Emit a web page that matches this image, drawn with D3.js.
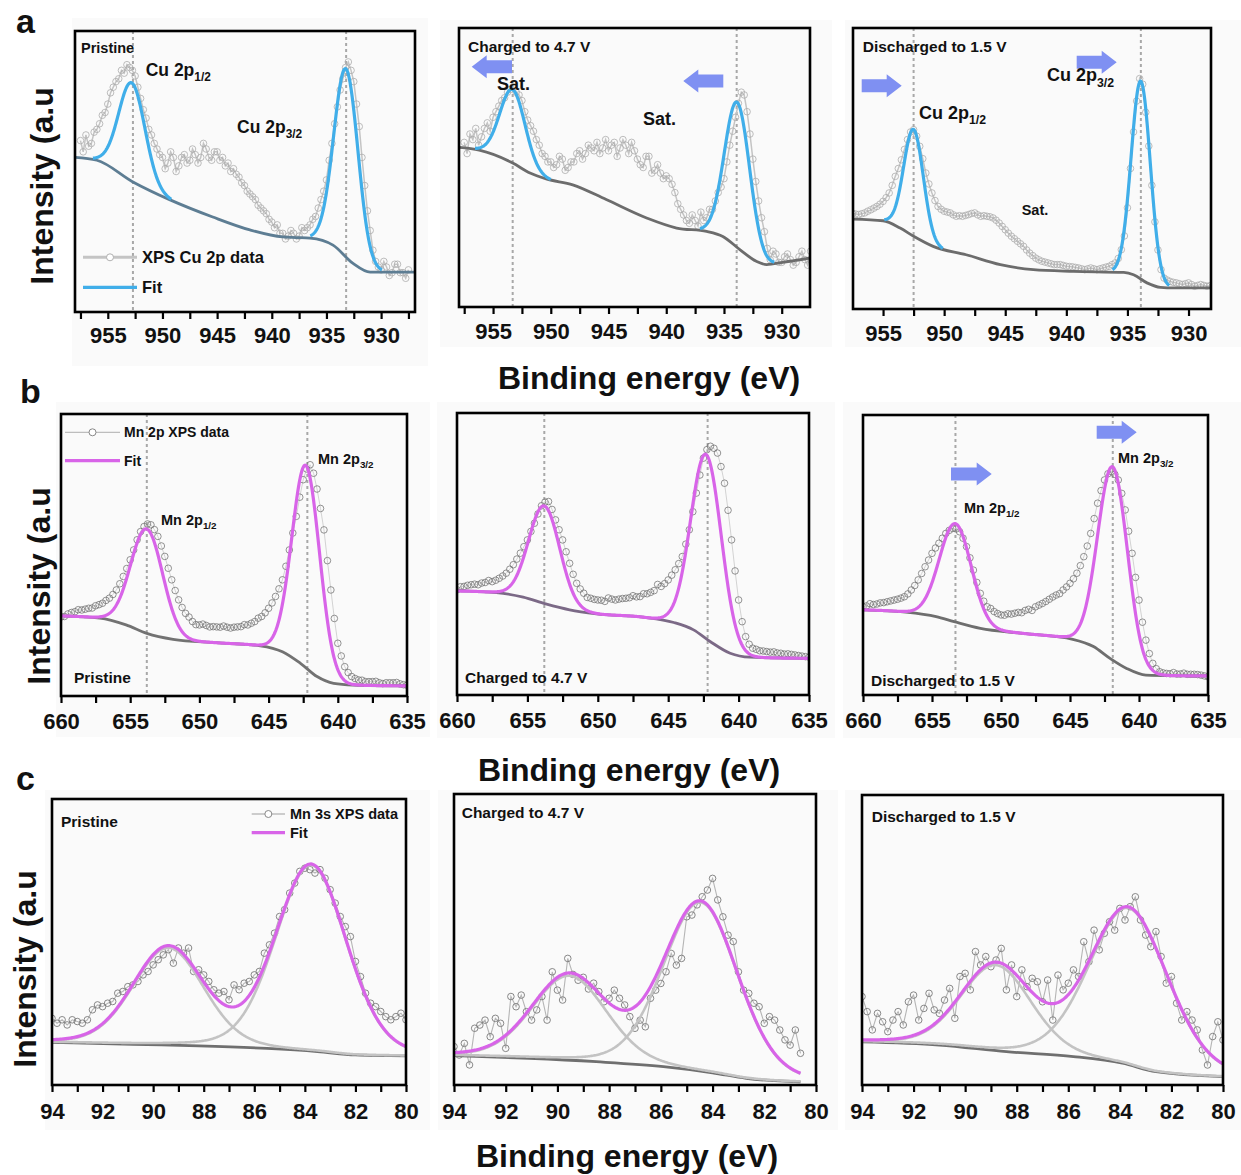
<!DOCTYPE html>
<html><head><meta charset="utf-8">
<script src="https://cdn.jsdelivr.net/npm/d3@7"></script>
<style>
body{margin:0;background:#fff;}
svg text{font-family:"Liberation Sans",Arial,Helvetica,sans-serif;font-weight:bold;fill:#111;}
</style></head>
<body><svg id="fig" width="1241" height="1175"></svg>
<script>
// ---------- energy grids (binding energy, eV) ----------
const cuEnergy = d3.range(957.5, 927.4, -0.25);         // Cu 2p scans
const mn2pEnergy = d3.range(660, 634.9, -0.25);         // Mn 2p scans
const mn3sEnergy = d3.range(94, 79.99, -0.2);           // Mn 3s scans
const mn3sEnergyShort = d3.range(94, 80.59, -0.2);      // Mn 3s charged scan ends at 80.6 eV

// ---------- measured intensities (a.u., 0 = bottom of frame, 100 = top) ----------
// Cu 2p rows: first row 957.5–957.25, then one row per eV (N, N-0.25, N-0.5, N-0.75)
const cuPristine = [61,57,
  63,59,60,64, 65,67,70,71, 74,78,80,82, 83,86,85,88, 87,86,84,80,
  76,72,69,65, 63,60,58,56, 55,51,53,57, 55,50,52,55, 56,53,54,58,
  56,53,55,60, 58,55,54,57, 57,54,55,52, 53,50,51,49, 48,46,45,43,
  42,41,40,38, 37,36,35,33, 32,30,31,28, 28,26,27,29, 28,26,27,30,
  29,30,31,33, 34,37,40,43, 47,54,60,67, 73,79,83,87, 89,86,82,74,
  66,55,45,36, 29,22,18,16, 15,18,16,13, 14,17,17,14, 14,12,15];
const cuCharged = [59,55,
  62,60,64,58, 61,64,66,63, 68,70,72,74, 75,77,78,79, 77,76,74,70,
  67,65,63,60, 58,55,54,52, 52,50,51,54, 53,49,50,52, 52,55,56,53,
  55,58,57,56, 59,55,57,60, 56,58,59,54, 57,60,58,55, 59,56,53,51,
  50,54,54,48, 49,51,48,46, 47,46,44,41, 37,35,33,31, 30,33,31,29,
  34,31,32,35, 35,38,41,43, 46,52,58,63, 68,73,77,76, 70,62,53,45,
  38,32,27,21, 17,20,19,16, 16,18,19,17, 15,16,18,20, 17,15,20];
const cuDischarged = [34,33.8,
  33.6,33.9,34.2,34.8, 35.3,35.9,36.5,37.3, 38.3,39.6,41.3,44, 47.2,50,53.1,56.8, 60.3,63,63.8,61.5,
  57.9,53.5,48.4,44.5, 41.3,38.6,36.5,35.5, 34.8,34.5,34.2,33.5, 33,33.2,33,33.3, 33.6,34,34.2,33.5,
  33,33.2,33,32.8, 32.4,31.6,30.6,29.4, 28.2,27,25.9,25, 24.1,23.2,22.3,21, 19.9,19,18.1,17.5,
  17,16.7,16.4,16.1, 15.8,15.8,15.8,15.5, 15.2,15.1,15,14.8, 14.6,14.3,14,14.3, 14.6,14.3,14,14.3,
  14.6,14.9,15.2,15.8, 16.4,18,21.1,26, 36,50,63,74, 82,80,70,58, 44,31,21,14,
  11,10.3,9.8,9.5, 9.3,9,8.7,9, 9.3,8.7,8.1,8.4, 8.7,8.4,8.1,8.3, 8.4,8.3,8.2];

// Mn 2p rows: one row per eV (N, N-0.25, N-0.5, N-0.75) from 660, last value at 635
const mn2pPristine = [
  28.0,28.2,29.1,29.6, 29.9,30.6,30.5,30.8, 31.1,31.2,32.0,32.4, 32.9,33.9,34.7,36.0, 37.6,39.8,42.4,45.2,
  48.3,51.8,55.4,58.3, 60.1,61.0,60.7,59.0, 56.6,53.2,49.5,45.3, 41.2,37.4,34.1,31.4, 29.3,28.0,26.4,25.3,
  25.2,25.5,25.0,24.5, 24.6,24.5,24.4,24.8, 24.4,24.1,24.4,24.5, 24.6,25.3,25.2,25.8, 26.4,27.6,28.2,29.5,
  31.1,33.0,35.3,38.0, 41.2,46.0,51.8,57.8, 63.7,70.5,76.7,80.5, 82.0,79.0,73.4,66.5, 58.9,48.0,37.6,27.5,
  18.7,14.2,10.4,8.3, 6.9,6.2,5.7,5.6, 5.1,5.1,5.1,5.2, 4.7,4.4,4.7,4.7, 4.7,4.8,4.3,4.0, 3.8];
const mn2pCharged = [
  37.3,38.4,38.5,38.9, 39.1,39.3,39.1,39.7, 39.9,40.6,40.2,40.7, 41.4,42.2,43.2,44.6, 46.2,48.2,50.3,52.6,
  55.0,58.0,60.9,64.2, 67.1,68.4,68.6,65.8, 62.1,58.6,55.0,50.8, 46.7,42.8,39.6,37.6, 36.1,34.6,34.3,33.9,
  33.7,33.6,33.2,34.4, 34.0,33.7,34.0,34.2, 34.3,34.5,35.2,34.8, 34.9,35.9,35.9,36.4, 37.0,39.2,38.5,39.5,
  40.8,42.5,44.4,46.6, 49.1,53.5,58.6,65.0, 71.6,78.0,84.0,87.0, 88.2,87.5,85.8,81.0, 75.1,65.5,55.0,44.0,
  33.7,26.0,20.7,18.0, 16.6,16.2,15.7,15.6, 15.4,15.2,15.3,14.9, 14.8,14.5,14.6,14.4, 14.2,14.0,13.8,13.6, 13.4];
const mn2pDischarged = [
  31.5,31.8,32.6,32.3, 32.5,32.9,33.0,33.3, 33.6,33.9,34.2,34.6, 35.1,36.1,37.5,39.1, 41.1,43.4,45.8,48.2,
  50.6,52.5,54.2,56.0, 57.7,58.8,59.5,59.3, 58.3,56.0,53.0,49.0, 44.6,40.2,36.3,33.5, 31.5,30.9,29.8,29.1,
  28.6,28.5,29.0,28.9, 29.2,29.5,29.4,30.2, 30.6,30.2,31.5,32.1, 32.7,33.4,34.2,35.0, 35.7,36.2,37.5,38.6,
  39.9,41.5,43.5,46.2, 49.4,53.2,57.7,63.0, 68.5,73.0,76.8,79.0, 79.8,78.8,76.8,72.0, 66.1,58.5,50.6,42.0,
  33.9,26.0,19.6,14.8, 11.3,9.4,8.3,7.9, 7.7,7.6,8.0,7.5, 7.5,7.8,7.4,7.4, 7.4,7.3,7.1,6.8, 6.5];

const mn3sPristine = [23.3,21.6,22.8,21,22.8,22.2,21.6,22.8,26.3,28,
  27.4,28.6,29.2,32.1,32.7,34.4,35,36.2,38.5,39.7,
  42,43.8,45.5,47.3,42.6,47.9,46.1,47.9,39.7,40.3,
  38.5,36.2,33.3,32.1,32.7,29.8,35,33.3,35.6,36.2,
  38.5,39.7,46.1,49,53.1,58.9,61.3,67.1,70.6,74.7,
  75.8,75.3,74.1,75.3,72.3,68.3,63.6,58.9,55.4,51.9,
  43.2,37.9,32.1,28.6,27.4,25.7,23.9,22.8,23.9,25.1,22.8];
const mn3sCharged = [13.2,10.3,14.3,6.9,19.5,20.6,22.3,16.6,22.9,21.2,
  12.6,30.4,26.9,30.9,25.2,22.3,25.8,30.4,22.3,38.9,
  32.6,29.2,43.5,38,36,37,33,35,32.1,28.6,
  29.8,32.6,29.8,27.5,23.5,19.5,22.3,20,29.8,32.6,
  34.9,38.9,45.2,41.2,43.5,57.8,58.4,61.9,64.7,67,
  71,63.6,57.8,51.5,49.3,38.9,32.6,31.5,28.1,26.9,
  21.2,23.5,22.3,18.9,15.5,13.7,18.9,10.9];
const mn3sDischarged = [30.5,25.3,19,24.7,21.8,18.4,22.4,25.3,20.7,28.7,
  31,22.4,26.4,31.6,25.9,24.7,29.3,33.3,23,37.4,
  38.5,32.8,46,41.4,44.3,40.8,43.1,47.1,32.8,41.4,
  30.5,39.7,33.9,36.8,35.6,28.7,36.2,22.4,37.9,32.8,
  35.1,39.7,37.4,49.4,42.5,53.4,46.6,52.3,56.3,53.4,
  60.9,56.9,61.5,64.9,56.9,51.7,47.7,52.9,44.3,35.1,
  37.4,28.2,22.4,25.3,22.4,19,12.1,6.9,16.7,21.8,15.5];

// ---------- Shirley-type backgrounds [eV, intensity] ----------
const cuPristineBg = [[958,55],[956,54],[952.7,46.3],[949.3,39.9],[945.4,33.8],[942,29.2],[939,26.7],[937.8,26.5],[936.5,26.3],[934.4,23.8],[932.6,17.4],[931,14.2],[926.9,14.2]];
const cuChargedBg = [[958,57.2],[956.2,56.2],[953.3,51.6],[951.8,48],[950.4,45.9],[948.1,43.8],[945.2,38.5],[941.7,31.9],[939.1,28.3],[936.5,27.1],[935.1,25.3],[933.6,20.5],[932.2,16.4],[931.3,15.2],[929.9,16],[927.5,17.6]];
const cuDischargedBg = [[957.5,32],[955,31.4],[953.6,28.8],[952.5,25.9],[950.9,22.3],[948.2,19.3],[945.4,15.8],[942.7,14],[939.4,13.4],[935.3,13],[934.5,12.2],[933.4,9.3],[932.3,7.7],[931.2,7.5],[928.1,7.5]];
const mn2pPristineBg = [[660,28.4],[657.2,27.6],[655.3,25.2],[653.8,22.2],[651.9,20.1],[648.8,18.9],[645.6,17.8],[644,15.7],[642.7,11.6],[641.5,6.9],[640.3,4.5],[638.9,3.9],[635,3.6]];
const mn2pChargedBg = [[660,36.9],[657.2,36.3],[655.3,34.7],[653.7,32.3],[652,30.2],[650.1,28.8],[646.8,27.6],[644.6,25.7],[643.2,23.1],[642,18.9],[640.6,14.8],[639.2,13.4],[635,13]];
const mn2pDischargedBg = [[660,30.4],[656.9,29.6],[654.7,28],[653.4,26.2],[651.5,23.8],[648.4,22],[644.8,19.9],[643.3,17.3],[642.1,13.1],[640.9,9.5],[639.5,7.1],[635,6.8]];
const mn3sPristineBg = [[94,14.9],[90.8,14.2],[88.2,13.7],[85.5,12.8],[83.5,11.7],[82,10.5],[80,10.2]];
const mn3sChargedBg = [[94,10.1],[91.1,9.2],[88.5,8],[85.9,6.3],[84,4.2],[82.7,2.3],[80.6,1.1]];
const mn3sDischargedBg = [[94,14.9],[91,13.8],[88.4,11.5],[85.8,9.8],[83.9,7.5],[82.6,4.6],[80,2.9]];

// ---------- fitted peak components ----------
const cuPristinePeaks = [{center:952.8,height:35,sigma:1.2},{center:933.2,height:67,sigma:1.1}];
const cuChargedPeaks = [{center:953.3,height:26.3,sigma:1.1},{center:933.85,height:52,sigma:1.08}];
const cuDischargedPeaks = [{center:952.5,height:38,sigma:0.8},{center:933.9,height:70.4,sigma:0.78}];
const mn2pPristinePeaks = [{center:653.8,height:37,sigma:1.15},{center:642.3,height:71.7,sigma:1.0}];
const mn2pChargedPeaks = [{center:653.8,height:34.6,sigma:1.1},{center:642.3,height:65.3,sigma:1.08}];
const mn2pDischargedPeaks = [{center:653.3,height:35.1,sigma:1.15},{center:641.9,height:69,sigma:1.07}];
const mn3sPristinePeaks = [{center:89.4,height:34,fwhm:3.3,eta:0.15},{center:83.75,height:65,fwhm:3.3,eta:0.15}];
const mn3sChargedPeaks = [{center:89.54,height:29,fwhm:3.4,eta:0.15},{center:84.46,height:58,fwhm:3.4,eta:0.15}];
const mn3sDischargedPeaks = [{center:88.8,height:29.5,fwhm:3.2,eta:0.15},{center:83.65,height:54,fwhm:3.6,eta:0.15}];

// ---------- peak positions marked with dotted guides ----------
const cuPristineGuides = [952.7, 933.2];
const cuChargedGuides = [953.3, 933.9];
const cuDischargedGuides = [952.5, 933.9];
const mn2pPristineGuides = [653.8, 642.2];
const mn2pChargedGuides = [653.8, 642.2];
const mn2pDischargedGuides = [653.3, 641.9];

// ---------- axis tick values ----------
const cuTicks = d3.range(957.5, 926, -2.5);
const mn2pTicks = d3.range(660, 634, -2.5);
const mn3sTicks = d3.range(94, 79, -1);

// ---------- styling ----------
const BLUE = "#40aee9", MAGENTA = "#d864e8", ARROW = "#7f90f2";

const panels = [
  {id:"a1", x0:75, x1:415, y0:31, y1:312, domain:[958,926.9], kind:"cu",
   energy:cuEnergy, data:cuPristine, bg:cuPristineBg, peaks:cuPristinePeaks, guides:cuPristineGuides,
   ticks:cuTicks, major:5, pad:8, bgColor:"#5d7d93",
   notes:[[6,22,"Pristine","",14.5],[70.7,45,"Cu 2p","1/2",17.5],[162,101.5,"Cu 2p","3/2",17.5]],
   legend:{xa:8, xb:62, yData:226.3, yFit:256.3, tx:67, text:"XPS Cu 2p data", size:16.5, fit:BLUE, thick:true},
   arrows:[]},
  {id:"a2", x0:459, x1:810, y0:28, y1:307, domain:[957.95,927.55], kind:"cu",
   energy:cuEnergy, data:cuCharged, bg:cuChargedBg, peaks:cuChargedPeaks, guides:cuChargedGuides,
   ticks:cuTicks, major:5, pad:9, bgColor:"#6c6c6c",
   notes:[[9,23.5,"Charged to 4.7 V","",15.5],[38,62,"Sat.","",18],[184,97,"Sat.","",18]],
   arrows:[[53,12.7,38.7],[264.3,224.3,53]]},
  {id:"a3", x0:853, x1:1211, y0:28, y1:309, domain:[957.46,928.16], kind:"cu",
   energy:cuEnergy, data:cuDischarged, bg:cuDischargedBg, peaks:cuDischargedPeaks, guides:cuDischargedGuides,
   ticks:cuTicks, major:5, pad:9, bgColor:"#6c6c6c",
   notes:[[9.7,23.5,"Discharged to 1.5 V","",15.5],[66,90.5,"Cu 2p","1/2",18],[194,53.3,"Cu 2p","3/2",18],[168.7,187,"Sat.","",14.5]],
   arrows:[[8.7,48.7,57.7],[223.7,263.7,34.3]]},
  {id:"b1", x0:61, x1:407, y0:414, y1:696, domain:[660,635], kind:"mn2p",
   energy:mn2pEnergy, data:mn2pPristine, bg:mn2pPristineBg, peaks:mn2pPristinePeaks, guides:mn2pPristineGuides,
   ticks:mn2pTicks, major:5, pad:10, bgColor:"#727272",
   notes:[[257,50,"Mn 2p","3/2",14.5],[100,111,"Mn 2p","1/2",14.5],[13,268.5,"Pristine","",15.5]],
   legend:{xa:4, xb:59, yData:18.3, yFit:46.7, tx:63, text:"Mn 2p XPS data", size:14, fit:MAGENTA, thick:false},
   arrows:[]},
  {id:"b2", x0:457, x1:809, y0:413, y1:695, domain:[660,635], kind:"mn2p",
   energy:mn2pEnergy, data:mn2pCharged, bg:mn2pChargedBg, peaks:mn2pChargedPeaks, guides:mn2pChargedGuides,
   ticks:mn2pTicks, major:5, pad:10, bgColor:"#7b6986",
   notes:[[8,270,"Charged to 4.7 V","",15.5]], arrows:[]},
  {id:"b3", x0:863, x1:1208, y0:415, y1:695, domain:[660,635], kind:"mn2p",
   energy:mn2pEnergy, data:mn2pDischarged, bg:mn2pDischargedBg, peaks:mn2pDischargedPeaks, guides:mn2pDischargedGuides,
   ticks:mn2pTicks, major:5, pad:10, bgColor:"#6e6e6e",
   notes:[[8,270.5,"Discharged to 1.5 V","",15.5],[101,98,"Mn 2p","1/2",14.5],[255,47.5,"Mn 2p","3/2",14.5]],
   arrows:[[88,128.7,59],[233.7,273.7,17.3]]},
  {id:"c1", x0:52, x1:406, y0:799, y1:1085, domain:[94,80], kind:"mn3s",
   energy:mn3sEnergy, data:mn3sPristine, bg:mn3sPristineBg, peaks:mn3sPristinePeaks, guides:[],
   ticks:mn3sTicks, major:2, pad:11, bgColor:"#6f6f6f",
   notes:[[9,27.5,"Pristine","",15.5]],
   legend:{xa:199.7, xb:233, yData:15, yFit:33.7, tx:238, text:"Mn 3s XPS data", size:14.5, fit:MAGENTA, thick:false},
   arrows:[]},
  {id:"c2", x0:454, x1:816, y0:794, y1:1085, domain:[94,80], kind:"mn3s",
   energy:mn3sEnergyShort, data:mn3sCharged, bg:mn3sChargedBg, peaks:mn3sChargedPeaks, guides:[],
   ticks:mn3sTicks, major:2, pad:11, bgColor:"#6f6f6f",
   notes:[[7.7,24,"Charged to 4.7 V","",15.5]], arrows:[]},
  {id:"c3", x0:862, x1:1223, y0:795, y1:1085, domain:[94,80], kind:"mn3s",
   energy:mn3sEnergy, data:mn3sDischarged, bg:mn3sDischargedBg, peaks:mn3sDischargedPeaks, guides:[],
   ticks:mn3sTicks, major:2, pad:11, bgColor:"#6f6f6f",
   notes:[[9.7,26.5,"Discharged to 1.5 V","",15.5]], arrows:[]}
];

// pale backing tiles behind each panel
const tiles = [[72,18,356,348],[440,20,392,327],[845,20,396,327],[56,402,374,335],[437,402,398,336],[843,402,398,336],[45,790,385,340],[438,790,400,340],[845,790,396,340]];

const svg = d3.select("#fig");
const defs = svg.append("defs");
svg.selectAll("rect.tile").data(tiles).join("rect").attr("class","tile")
  .attr("x",d=>d[0]).attr("y",d=>d[1]).attr("width",d=>d[2]).attr("height",d=>d[3]).attr("fill","#fafafa");

function peakValue(p, e) {
  const d = e - p.center;
  if (p.sigma !== undefined) return p.height * Math.exp(-d*d/(2*p.sigma*p.sigma));
  const w2 = p.fwhm*p.fwhm;
  return p.height * ((1-p.eta)*Math.exp(-4*Math.LN2*d*d/w2) + p.eta/(1+4*d*d/w2));
}

function arrowPath(xt, xh, cy) {
  const dir = Math.sign(xh - xt), hl = 15*dir, bh = 6.5, hh = 11.5;
  return `M${xt},${cy-bh}L${xh-hl},${cy-bh}L${xh-hl},${cy-hh}L${xh},${cy}L${xh-hl},${cy+hh}L${xh-hl},${cy+bh}L${xt},${cy+bh}Z`;
}

function note(g, x, y, main, sub, size) {
  const t = g.append("text").attr("x", x).attr("y", y).attr("font-size", size);
  t.append("tspan").text(main);
  if (sub) t.append("tspan").attr("font-size", size*0.68).attr("dy", size*0.3).text(sub);
}

panels.forEach(P => {
  const g = svg.append("g");
  const x = d3.scaleLinear().domain(P.domain).range([P.x0, P.x1]);
  const y = d3.scaleLinear().domain([0,100]).range([P.y1, P.y0]);
  defs.append("clipPath").attr("id","clip-"+P.id).append("rect")
    .attr("x",P.x0).attr("y",P.y0).attr("width",P.x1-P.x0).attr("height",P.y1-P.y0);
  const plot = g.append("g").attr("clip-path",`url(#clip-${P.id})`);

  // dotted guides at peak positions
  plot.selectAll("line.guide").data(P.guides).join("line").attr("class","guide")
    .attr("x1",d=>x(d)).attr("x2",d=>x(d)).attr("y1",P.y0).attr("y2",P.y1)
    .attr("stroke","#a8a8a8").attr("stroke-width",2).attr("stroke-dasharray","3,3");

  // measured spectrum: thin connecting line plus open circles
  const pts = P.energy.map((e,i)=>[e, P.data[i]]);
  const style = {
    cu:{line:"#c4c4c4", lw:1.5, dot:"#acacac", sw:0.8},
    mn2p:{line:"#c8c8c8", lw:0.8, dot:"#707070", sw:0.75},
    mn3s:{line:"#b5b5b5", lw:1.1, dot:"#7a7a7a", sw:0.9}
  }[P.kind];
  plot.append("path").datum(pts)
    .attr("d", d3.line().x(d=>x(d[0])).y(d=>y(d[1])))
    .attr("fill","none").attr("stroke",style.line).attr("stroke-width",style.lw);
  plot.selectAll("circle.pt").data(pts).join("circle").attr("class","pt")
    .attr("cx",d=>x(d[0])).attr("cy",d=>y(d[1])).attr("r",3.3)
    .attr("fill","none").attr("stroke",style.dot).attr("stroke-width",style.sw);

  // background curve
  const bgPath = plot.append("path").datum(P.bg)
    .attr("d", d3.line().x(d=>x(d[0])).y(d=>y(d[1])).curve(d3.curveMonotoneX))
    .attr("fill","none").attr("stroke",P.bgColor).attr("stroke-width",2.8);

  // sample the drawn background so the fit sits exactly on it
  const node = bgPath.node(), L = node.getTotalLength();
  const samples = d3.range(0, L, 0.5).map(l => node.getPointAtLength(l));
  samples.push(node.getPointAtLength(L));
  const bis = d3.bisector(p=>p.x).left;
  const bgVal = e => {
    const px = x(e);
    let i = bis(samples, px);
    if (i <= 0) return y.invert(samples[0].y);
    if (i >= samples.length) return y.invert(samples[samples.length-1].y);
    const a = samples[i-1], b = samples[i];
    const t = (px - a.x) / ((b.x - a.x) || 1);
    return y.invert(a.y + t*(b.y - a.y));
  };
  const eHi = P.bg[0][0], eLo = P.bg[P.bg.length-1][0];
  const fine = d3.range(eHi, eLo - 0.001, -0.04);
  const line = d3.line().x(d=>x(d[0])).y(d=>y(d[1]));

  if (P.kind === "cu") {
    P.peaks.forEach(p => {
      const seg = fine.filter(e => Math.abs(e - p.center) <= 3*p.sigma)
        .map(e => [e, bgVal(e) + peakValue(p, e)]);
      plot.append("path").datum(seg).attr("d", line)
        .attr("fill","none").attr("stroke",BLUE).attr("stroke-width",3.2);
    });
  } else {
    if (P.kind === "mn3s") {
      P.peaks.forEach(p => {
        plot.append("path").datum(fine.map(e => [e, bgVal(e) + peakValue(p, e)])).attr("d", line)
          .attr("fill","none").attr("stroke","#c3c3c3").attr("stroke-width",2.6);
      });
    }
    const env = fine.map(e => [e, bgVal(e) + d3.sum(P.peaks, p => peakValue(p, e))]);
    plot.append("path").datum(env).attr("d", line)
      .attr("fill","none").attr("stroke",MAGENTA).attr("stroke-width",3.2);
  }

  // arrows
  g.selectAll("path.arrow").data(P.arrows).join("path").attr("class","arrow")
    .attr("d", d => arrowPath(P.x0 + d[0], P.x0 + d[1], P.y0 + d[2]))
    .attr("fill", ARROW);

  // annotations
  P.notes.forEach(n => note(g, P.x0 + n[0], P.y0 + n[1], n[2], n[3], n[4]));

  // legend
  if (P.legend) {
    const Lg = P.legend;
    g.append("line").attr("x1",P.x0+Lg.xa).attr("x2",P.x0+Lg.xb).attr("y1",P.y0+Lg.yData).attr("y2",P.y0+Lg.yData)
      .attr("stroke", Lg.thick ? "#c4c4c4" : "#bdbdbd").attr("stroke-width", Lg.thick ? 3 : 1.3);
    g.append("circle").attr("cx",P.x0+(Lg.xa+Lg.xb)/2).attr("cy",P.y0+Lg.yData).attr("r",3.5)
      .attr("fill","#fff").attr("stroke", Lg.thick ? "#b0b0b0" : "#888").attr("stroke-width",1);
    g.append("line").attr("x1",P.x0+Lg.xa).attr("x2",P.x0+Lg.xb).attr("y1",P.y0+Lg.yFit).attr("y2",P.y0+Lg.yFit)
      .attr("stroke", Lg.fit).attr("stroke-width",3.2);
    note(g, P.x0+Lg.tx, P.y0+Lg.yData + Lg.size*0.36, Lg.text, "", Lg.size);
    note(g, P.x0+Lg.tx, P.y0+Lg.yFit + Lg.size*0.36, "Fit", "", Lg.size);
  }

  // bottom axis with outward ticks
  const tv = P.ticks.filter(t => t <= Math.max(...P.domain) + 1e-6 && t >= Math.min(...P.domain) - 1e-6);
  const axis = d3.axisBottom(x).tickValues(tv).tickSize(7).tickPadding(P.pad)
    .tickFormat(d => (Math.abs(d % P.major) < 1e-6) ? d3.format("d")(d) : "");
  const ag = g.append("g").attr("transform",`translate(0,${P.y1})`).call(axis);
  ag.select(".domain").remove();
  ag.selectAll(".tick line").attr("stroke","#000").attr("stroke-width",2.2);
  ag.selectAll(".tick text").attr("font-size",22);

  // frame
  g.append("rect").attr("x",P.x0).attr("y",P.y0).attr("width",P.x1-P.x0).attr("height",P.y1-P.y0)
    .attr("fill","none").attr("stroke","#000").attr("stroke-width",2.6);
});

// axis titles
const xTitles = [[649,389],[629,781],[627,1167]];
svg.selectAll("text.xt").data(xTitles).join("text").attr("class","xt")
  .attr("x",d=>d[0]).attr("y",d=>d[1]).attr("text-anchor","middle").attr("font-size",32)
  .text("Binding energy (eV)");
const yTitles = [[53,186],[50,586],[36,969]];
svg.selectAll("text.yt").data(yTitles).join("text").attr("class","yt")
  .attr("transform",d=>`translate(${d[0]},${d[1]}) rotate(-90)`)
  .attr("text-anchor","middle").attr("font-size",32)
  .text("Intensity (a.u");

// panel letters
const letters = [["a",16,33],["b",20,403],["c",16,790]];
svg.selectAll("text.lt").data(letters).join("text").attr("class","lt")
  .attr("x",d=>d[1]).attr("y",d=>d[2]).attr("font-size",34).text(d=>d[0]);
</script>
</body></html>
